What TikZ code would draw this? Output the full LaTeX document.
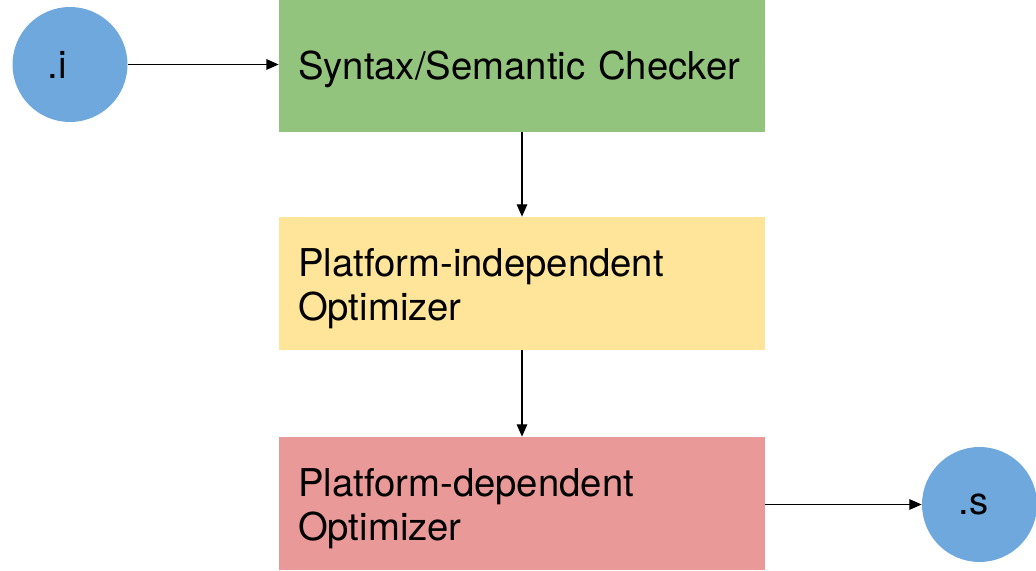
\documentclass[tikz,border=0pt]{standalone}
\usepackage{fontspec}
\setmainfont{TeX Gyre Heros}
\usetikzlibrary{positioning,arrows.meta}
\definecolor{filebl}{RGB}{111,168,220}
\definecolor{stagegr}{RGB}{147,196,125}
\definecolor{stageye}{RGB}{255,229,153}
\definecolor{stagerd}{RGB}{234,153,153}

\begin{document}
\begin{tikzpicture}[x=0.02cm,y=-0.02cm,
  stage/.style={text width=8.96cm, inner xsep=0.38cm, inner ysep=0pt,
    minimum height=2.66cm, align=left,
    font=\fontsize{21.8}{24.8}\selectfont},
  oneline/.style={text depth=0pt},
  twoline/.style={text depth=23.5pt},
  file/.style={circle, fill=filebl, minimum size=2.3cm, inner sep=0pt,
    font=\fontsize{21.8}{24.8}\selectfont},
  flow/.style={line width=0.7pt, -{Triangle[length=7pt,width=6pt]}}]
  \useasboundingbox (0,0) rectangle (1036,571);
  % stages of the compiler, top to bottom
  \node[stage, oneline, fill=stagegr] (check) at (522,65.5) {Syntax/Semantic Checker};
  \node[stage, twoline, fill=stageye] (indep) at (522,283.5) {Platform-independent\\Optimizer};
  \node[stage, twoline, fill=stagerd] (dep)   at (522,503.5) {Platform-dependent\\Optimizer};
  % input and output files (labels sit a little left of centre)
  \node[file] (src) at (70,64.5)    {.i\kern0.5cm};
  \node[file] (asm) at (979.5,504.5) {.s\kern0.24cm};
  \draw[flow] (src.east) -- (src.east -| check.west);
  \draw[flow] (check) -- (indep);
  \draw[flow] (indep) -- (dep);
  \draw[flow] (asm -| dep.east) -- (asm.west);
\end{tikzpicture}
\end{document}
